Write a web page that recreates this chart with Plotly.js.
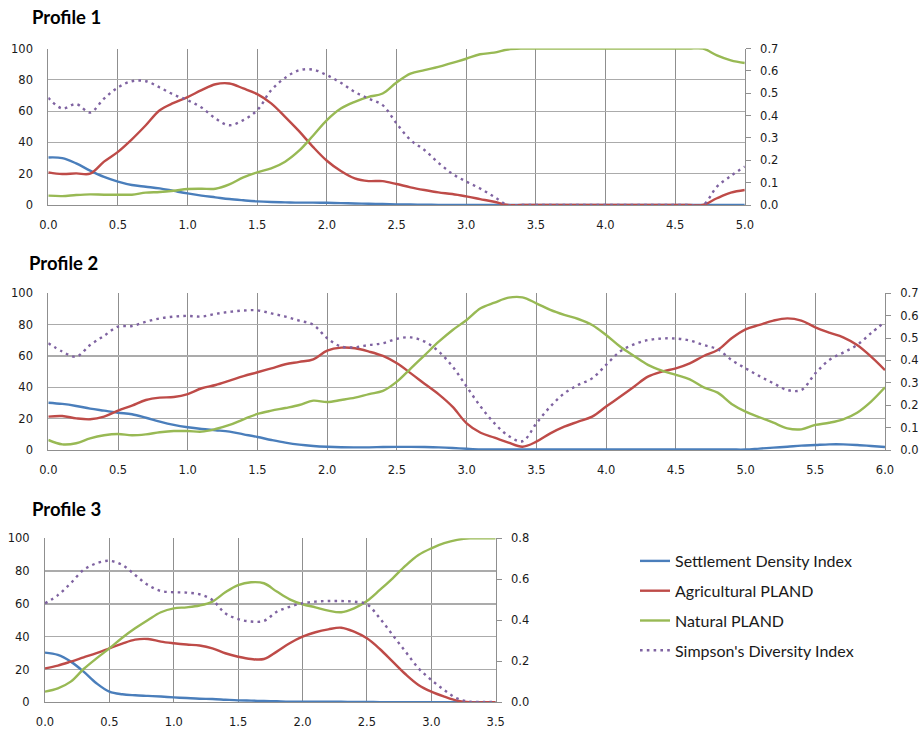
<!DOCTYPE html>
<html>
<head>
<meta charset="utf-8">
<script src="https://cdn.plot.ly/plotly-3.0.1.min.js"></script>
<style>html,body{margin:0;padding:0;background:#fff;}#chart{width:919px;height:730px;}</style>
</head>
<body>
<div id="chart"></div>
<script>
// ---------- Data ----------
const seriesNames = ["Settlement Density Index", "Agricultural PLAND", "Natural PLAND", "Simpson's Diversity Index"];
const profileTitles = ["Profile 1", "Profile 2", "Profile 3"];

// Profile 1 (distance 0.0 - 5.0)
const dist1 = [0.0,0.1,0.2,0.3,0.4,0.5,0.6,0.7,0.8,0.9,1.0,1.1,1.2,1.3,1.4,1.5,1.6,1.7,1.8,1.9,2.0,2.1,2.2,2.3,2.4,2.5,2.6,2.7,2.8,2.9,3.0,3.1,3.2,3.3,3.4,3.5,3.6,3.7,3.8,3.9,4.0,4.1,4.2,4.3,4.4,4.5,4.6,4.7,4.8,4.9,5.0];
const settlement1 = [30.4,30,26.6,22,18,15,12.8,11.7,10.6,9,7.4,6,4.9,3.8,3,2.3,1.9,1.7,1.5,1.5,1.4,1.2,1,0.8,0.6,0.4,0.3,0.2,0.1,0,0,0,0,0,0,0,0,0,0,0,0,0,0,0,0,0,0,0,0,0,0];
const agri1 = [20.9,19.8,20.2,20,27.7,34,42,51,60.6,65.3,69,73.4,77.2,77.7,74.5,70.9,65,56.4,47.2,37.2,28.3,21.7,17,15.3,15.3,13.4,11.3,9.6,8.1,7,5.5,3.8,2.1,0,0,0,0,0,0,0,0,0,0,0,0,0,0,0,4.3,7.9,9.6];
const natural1 = [6,5.7,6.4,6.8,6.6,6.6,6.6,7.9,8.3,9.1,10.2,10.4,10.4,13.2,17.7,20.9,23.4,27.7,34.7,44.3,54.3,61.7,66,69.1,71.3,78.3,84,86.2,88.3,90.9,93.5,96.4,97.4,99.4,100,100,100,100,100,100,100,100,100,100,100,100,100,100,95.7,92.5,90.8];
const simpson1 = [0.48,0.432,0.452,0.414,0.476,0.526,0.554,0.554,0.526,0.494,0.469,0.436,0.387,0.357,0.38,0.424,0.514,0.569,0.603,0.606,0.581,0.547,0.506,0.476,0.447,0.365,0.291,0.246,0.189,0.14,0.105,0.074,0.037,0,0,0,0,0,0,0,0,0,0,0,0,0,0,0,0.082,0.13,0.172];

// Profile 2 (distance 0.0 - 6.0)
const dist2 = [0.0,0.1,0.2,0.3,0.4,0.5,0.6,0.7,0.8,0.9,1.0,1.1,1.2,1.3,1.4,1.5,1.6,1.7,1.8,1.9,2.0,2.1,2.2,2.3,2.4,2.5,2.6,2.7,2.8,2.9,3.0,3.1,3.2,3.3,3.4,3.5,3.6,3.7,3.8,3.9,4.0,4.1,4.2,4.3,4.4,4.5,4.6,4.7,4.8,4.9,5.0,5.1,5.2,5.3,5.4,5.5,5.6,5.7,5.8,5.9,6.0];
const settlement2 = [30.2,29.4,28.1,26.4,25.1,23.8,22.8,20.6,18.1,16,14.5,13.4,12.6,11.7,10,8.3,6.4,4.7,3.4,2.6,2.1,1.8,1.7,1.7,1.9,2,2,1.9,1.7,1.3,0.8,0.4,0.3,0.3,0.3,0.3,0.3,0.3,0.3,0.3,0.3,0.3,0.3,0.3,0.3,0.3,0.3,0.3,0.3,0.3,0.3,0.9,1.5,2.1,2.8,3.2,3.6,3.6,3.2,2.6,1.9];
const agri2 = [21.3,21.7,20.2,19.6,21.3,25.1,28.3,31.9,33.4,33.8,35.7,39.4,41.5,44.3,47.2,49.6,52.1,54.7,56.2,57.9,63.4,65.3,64.9,62.8,60,55.3,48.9,42.1,35.5,27.5,17,11,7.9,4.7,2.1,5.3,10.6,14.9,18.1,21.3,27.7,34,40.4,46.8,50,52.1,55.3,60,63.8,71.3,77,79.8,82.6,84,82.6,78.3,74.9,71.9,67,59.6,51];
const natural2 = [6.4,3.6,4.3,7.4,9.4,10.2,9.4,10,11.3,12.1,12.1,11.7,13.4,16,19.6,23,25.1,26.8,28.7,31.5,30.6,31.9,33.4,35.7,37.7,43.6,52.1,60.6,69.1,76.6,83,90.4,94,97.2,97.4,93.6,89.4,86.2,83.6,79.8,73.4,66,60,54.3,50.6,47.9,45.1,40,36.6,29.4,24.5,20.9,17.4,13.8,13.2,16,17.4,19.6,23.8,30.9,40];
const simpson2 = [0.477,0.44,0.417,0.469,0.51,0.551,0.554,0.573,0.588,0.596,0.599,0.596,0.608,0.617,0.623,0.624,0.61,0.596,0.578,0.559,0.499,0.462,0.459,0.469,0.477,0.497,0.503,0.484,0.44,0.372,0.283,0.194,0.119,0.063,0.039,0.119,0.194,0.253,0.291,0.32,0.38,0.44,0.472,0.491,0.498,0.498,0.489,0.469,0.45,0.402,0.365,0.33,0.298,0.268,0.268,0.342,0.402,0.435,0.469,0.522,0.573];

// Profile 3 (distance 0.0 - 3.5)
const dist3 = [0.0,0.1,0.2,0.3,0.4,0.5,0.6,0.7,0.8,0.9,1.0,1.1,1.2,1.3,1.4,1.5,1.6,1.7,1.8,1.9,2.0,2.1,2.2,2.3,2.4,2.5,2.6,2.7,2.8,2.9,3.0,3.1,3.2,3.3,3.4,3.5];
const settlement3 = [30.3,28.9,24.8,18.7,11.6,6.5,4.9,4.3,3.9,3.5,3,2.6,2.2,2,1.6,1.2,1,0.8,0.6,0.4,0.4,0.3,0.3,0.3,0.2,0.2,0.1,0.1,0,0,0,0,0,0,0,0];
const agri3 = [20.7,22.4,24.8,27.4,30,32.9,35.8,38.2,38.6,37,36,35.2,34.6,32.9,29.9,27.8,26.4,26.4,30.9,36,40,42.7,44.5,45.5,43.1,39,32.5,24.8,17.1,10.6,6.5,3.5,1,0,0,0];
const natural3 = [6.5,8.5,12.6,20.3,26.8,32.9,39.4,45.1,50.2,54.9,57.3,57.9,59,61.4,67.1,71.5,73.2,72.6,67.5,62.8,59.8,57.9,55.9,54.9,57.3,61.8,68.5,75.6,83.3,89.8,93.9,97,99,100,100,100];
const simpson3 = [0.483,0.523,0.581,0.646,0.678,0.69,0.67,0.621,0.572,0.543,0.537,0.535,0.527,0.499,0.434,0.406,0.394,0.397,0.442,0.466,0.483,0.491,0.494,0.494,0.491,0.478,0.41,0.328,0.247,0.166,0.109,0.06,0.019,0.003,0.002,0.002];

// ---------- Styling ----------
const colors = ["#4A7EBB", "#BE4B48", "#98B954", "#7F63A1"];
const W = 919, H = 730;
const px = v => v / W;
const py = v => 1 - v / H;

const profiles = [
  {x: dist1, s: [settlement1, agri1, natural1, simpson1], xr: [0,5], y2max: 0.7, y2dtick: 0.1,
   left: 48.3, right: 744.8, top: 48.6, bottom: 205, titleY: 17, titleX: 30},
  {x: dist2, s: [settlement2, agri2, natural2, simpson2], xr: [0,6], y2max: 0.7, y2dtick: 0.1,
   left: 48.3, right: 885, top: 293.3, bottom: 450, titleY: 263, titleX: 27},
  {x: dist3, s: [settlement3, agri3, natural3, simpson3], xr: [0,3.5], y2max: 0.8, y2dtick: 0.2,
   left: 45, right: 495.7, top: 538.3, bottom: 702.3, titleY: 509, titleX: 30}
];

const tickFont = {family: "DejaVu Sans", size: 11.5, color: "#1a1a1a"};
const traces = [];
const layout = {
  width: W, height: H,
  margin: {l: 0, r: 0, t: 0, b: 0},
  paper_bgcolor: "#fff", plot_bgcolor: "#fff",
  showlegend: true,
  legend: {x: px(635), y: py(544), xanchor: "left", yanchor: "top",
           font: {family: "Lato", size: 16, color: "#1a1a1a"},
           traceorder: "grouped", tracegroupgap: 6, bgcolor: "rgba(0,0,0,0)"},
  annotations: []
};

profiles.forEach((p, i) => {
  const n = i + 1;
  const xa = "x" + (n === 1 ? "" : n);
  const ya = "y" + (2 * n - 1 === 1 ? "" : (2 * n - 1));
  const ya2 = "y" + (2 * n);
  for (let k = 0; k < 4; k++) {
    traces.push({
      type: "scatter", mode: "lines",
      x: p.x, y: p.s[k],
      name: seriesNames[k],
      legendgroup: "g" + k,
      showlegend: i === 0,
      xaxis: xa, yaxis: k === 3 ? ya2 : ya,
      line: {color: colors[k], width: 2.4, shape: "spline", smoothing: 1,
             dash: k === 3 ? "2.6px,4.2px" : "solid"},
      hoverinfo: "skip"
    });
  }
  const xKey = "xaxis" + (n === 1 ? "" : n);
  const yKey = "yaxis" + (2 * n - 1 === 1 ? "" : (2 * n - 1));
  const y2Key = "yaxis" + (2 * n);
  layout[xKey] = {
    domain: [px(p.left), px(p.right)], anchor: ya,
    range: p.xr, dtick: 0.5, tick0: 0, tickformat: ".1f",
    showgrid: true, gridcolor: "#8f8f8f", gridwidth: 1,
    zeroline: false, showline: true, linecolor: "#8f8f8f", linewidth: 1,
    ticks: "", ticklabelstandoff: 9, tickfont: tickFont, fixedrange: true
  };
  layout[yKey] = {
    domain: [py(p.bottom), py(p.top)], anchor: xa,
    range: [0, 100], dtick: 20, tick0: 0,
    showgrid: true, gridcolor: "#ababab", gridwidth: 1.2,
    zeroline: false, showline: true, linecolor: "#8f8f8f", linewidth: 1,
    ticks: "", ticklabelstandoff: 12, tickfont: tickFont, fixedrange: true
  };
  layout[y2Key] = {
    overlaying: ya, side: "right", anchor: xa,
    range: [0, p.y2max], dtick: p.y2dtick, tick0: 0, tickformat: ".1f",
    showgrid: false, zeroline: false, showline: true, linecolor: "#8f8f8f", linewidth: 1,
    ticks: "outside", ticklen: 5, tickcolor: "#8f8f8f", ticklabelstandoff: 7,
    tickfont: tickFont, fixedrange: true
  };
  layout.annotations.push({
    text: "<b>" + profileTitles[i] + "</b>", xref: "paper", yref: "paper",
    x: px(p.titleX), y: py(p.titleY), xanchor: "left", yanchor: "middle",
    showarrow: false, font: {family: "Lato", size: 18.5, color: "#000"}
  });
});

Plotly.newPlot("chart", traces, layout, {displayModeBar: false, staticPlot: true});
</script>
</body>
</html>
